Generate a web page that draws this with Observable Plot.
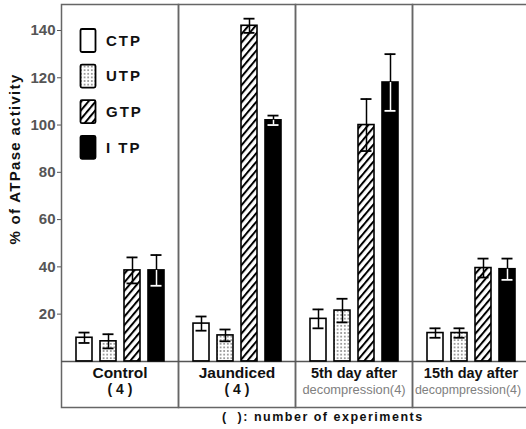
<!DOCTYPE html>
<html>
<head>
<meta charset="utf-8">
<script src="https://cdn.jsdelivr.net/npm/d3@7"></script>
<script src="https://cdn.jsdelivr.net/npm/@observablehq/plot@0.6"></script>
<style>
  html, body { margin: 0; padding: 0; background: #fff; overflow: hidden; }
  #wrap { position: relative; width: 526px; height: 429px; }
  #caption {
    position: absolute; left: 222px; top: 410px;
    font-family: "Liberation Sans", sans-serif; font-weight: bold;
    font-size: 12.5px; letter-spacing: 1.5px; color: #111; white-space: pre;
  }
</style>
</head>
<body>
<div id="wrap"><div id="chart"></div><div id="caption">(  ): number of experiments</div></div>
<script>
// ---- data ----
const groups = ["Control", "Jaundiced", "5th day", "15th day"];
const labelLine1 = ["Control", "Jaundiced", "5th day after", "15th day after"];
const labelLine2 = ["( 4 )", "( 4 )", "decompression(4)", "decopmpression(4)"];
const nucleotides = ["CTP", "UTP", "GTP", "ITP"];
const meanControl   = [10, 8.5, 38.5, 38.5];
const meanJaundiced = [16, 11, 142, 102];
const meanDay5      = [18, 21.5, 100, 118];
const meanDay15     = [12, 12, 39.5, 39];
const errControl    = [2.2, 3, 5.5, 6.5];
const errJaundiced  = [3, 2.5, 3, 2];
const errDay5       = [4, 5, 11, 12];
const errDay15      = [2, 2, 4, 4.5];
const yTicks = [20, 40, 60, 80, 100, 120, 140];
const yLabel = "% of ATPase activity";

const means = [meanControl, meanJaundiced, meanDay5, meanDay15];
const errs = [errControl, errJaundiced, errDay5, errDay15];
const data = groups.flatMap((g, i) => nucleotides.map((n, j) => ({
  group: g, type: n, value: means[i][j], err: errs[i][j],
  line1: labelLine1[i], line2: labelLine2[i]
})));

const fills = ["white", "url(#dots)", "url(#hatch)", "black"];
const lastGroup = groups[groups.length - 1];

const plot = Plot.plot({
  width: 526,
  height: 410,
  marginLeft: 60,
  marginRight: -3,
  marginTop: 4,
  marginBottom: 3,
  style: { fontFamily: "Liberation Sans, sans-serif", fontSize: "15px", fontWeight: "bold", color: "#555", background: "white", overflow: "hidden" },
  facet: { data, x: "group" },
  fx: { domain: groups, padding: 0, axis: null },
  x: { domain: nucleotides, paddingInner: 0.34, paddingOuter: 0.6, axis: null },
  y: { domain: [-19.5, 151], ticks: yTicks, tickSize: 4, tickPadding: 2, label: null },
  color: { domain: nucleotides, range: fills },
  marks: [
    Plot.frame({ stroke: "#666", strokeWidth: 1.5 }),
    Plot.ruleY([0], { stroke: "#555", strokeWidth: 1.5 }),
    Plot.barY(data, { x: "type", y: "value", fill: "type", stroke: "black", strokeWidth: 1.6 }),
    // upper half of error bar
    Plot.ruleX(data, { x: "type", y1: "value", y2: d => d.value + d.err, stroke: "black", strokeWidth: 1.5 }),
    Plot.tickY(data, { x: "type", y: d => d.value + d.err, stroke: "black", strokeWidth: 1.8, insetLeft: 2.5, insetRight: 2.5 }),
    // lower half (inside the bar)
    Plot.ruleX(data, { filter: d => d.type !== "ITP", x: "type", y1: d => d.value - d.err, y2: "value", stroke: "black", strokeWidth: 1.5 }),
    Plot.tickY(data, { filter: d => d.type !== "ITP", x: "type", y: d => d.value - d.err, stroke: "black", strokeWidth: 1.8, insetLeft: 2.5, insetRight: 2.5 }),
    Plot.ruleX(data, { filter: d => d.type === "ITP", x: "type", y1: d => d.value - d.err, y2: "value", stroke: "white", strokeWidth: 1.5 }),
    Plot.tickY(data, { filter: d => d.type === "ITP", x: "type", y: d => d.value - d.err, stroke: "white", strokeWidth: 1.8, insetLeft: 2.5, insetRight: 2.5 }),
    // category labels
    Plot.text(data, { filter: d => d.type === "CTP", text: "line1", frameAnchor: "bottom", dy: -30,
      fill: "#111", fontWeight: "bold", fontSize: d => d.line1.length > 10 ? 14.5 : 15.5 }),
    Plot.text(data, { filter: d => d.type === "CTP" && d.line2.length <= 6, text: "line2", frameAnchor: "bottom", dy: -14,
      fill: "#111", fontWeight: "bold", fontSize: 14 }),
    Plot.text(data, { filter: d => d.type === "CTP" && d.line2.length > 6 && d.group !== lastGroup, text: "line2",
      frameAnchor: "bottom", dy: -14, fill: "#808080", fontWeight: "normal", fontSize: 12.9 }),
    Plot.text(data, { filter: d => d.type === "CTP" && d.group === lastGroup, text: "line2",
      frameAnchor: "bottom", dy: -14, dx: -3, fill: "#808080", fontWeight: "normal", fontSize: 12.4 })
  ]
});

const svg = plot.tagName.toLowerCase() === "svg" ? plot : plot.querySelector("svg");
svg.style.overflow = "hidden";

// patterns
const defs = d3.select(svg).insert("defs", ":first-child");
const hatch = defs.append("pattern").attr("id", "hatch").attr("patternUnits", "userSpaceOnUse")
  .attr("width", 5.5).attr("height", 5.5).attr("patternTransform", "rotate(40)");
hatch.append("rect").attr("width", 5.5).attr("height", 5.5).attr("fill", "white");
hatch.append("line").attr("x1", 1).attr("x2", 1).attr("y1", 0).attr("y2", 5.5).attr("stroke", "black").attr("stroke-width", 2);
const dots = defs.append("pattern").attr("id", "dots").attr("patternUnits", "userSpaceOnUse")
  .attr("width", 3.6).attr("height", 3.6);
dots.append("rect").attr("width", 3.6).attr("height", 3.6).attr("fill", "white");
dots.append("rect").attr("x", 1.2).attr("y", 1.2).attr("width", 1.2).attr("height", 1.2).attr("fill", "#222");

// y-axis title
d3.select(svg).append("text")
  .attr("transform", "translate(15,159) rotate(-90)")
  .attr("text-anchor", "middle").attr("dy", "0.35em")
  .attr("font-family", "Liberation Sans, sans-serif").attr("font-weight", "bold")
  .attr("font-size", 15).attr("fill", "#111").style("letter-spacing", "1.3px")
  .text(yLabel);

// legend (inside Control panel)
const fx = plot.scale("fx");
const x0 = fx && fx.apply ? fx.apply("Control") : 60;
const lg = d3.select(svg).append("g").attr("font-family", "Liberation Sans, sans-serif")
  .attr("font-weight", "bold").attr("font-size", 15).attr("text-anchor", "start");
nucleotides.forEach((n, i) => {
  const top = 29 + i * 35.6;
  lg.append("rect").attr("x", x0 + 19.5).attr("y", top).attr("width", 15).attr("height", 23)
    .attr("rx", 1.5).attr("fill", fills[i]).attr("stroke", "black").attr("stroke-width", 1.8);
  lg.append("text").attr("x", x0 + 45).attr("y", top + 11.5).attr("dy", "0.35em")
    .attr("text-anchor", "start")
    .attr("fill", "#111").style("letter-spacing", "2px").text(n === "ITP" ? "I TP" : n);
});

document.getElementById("chart").appendChild(plot);
</script>
</body>
</html>
